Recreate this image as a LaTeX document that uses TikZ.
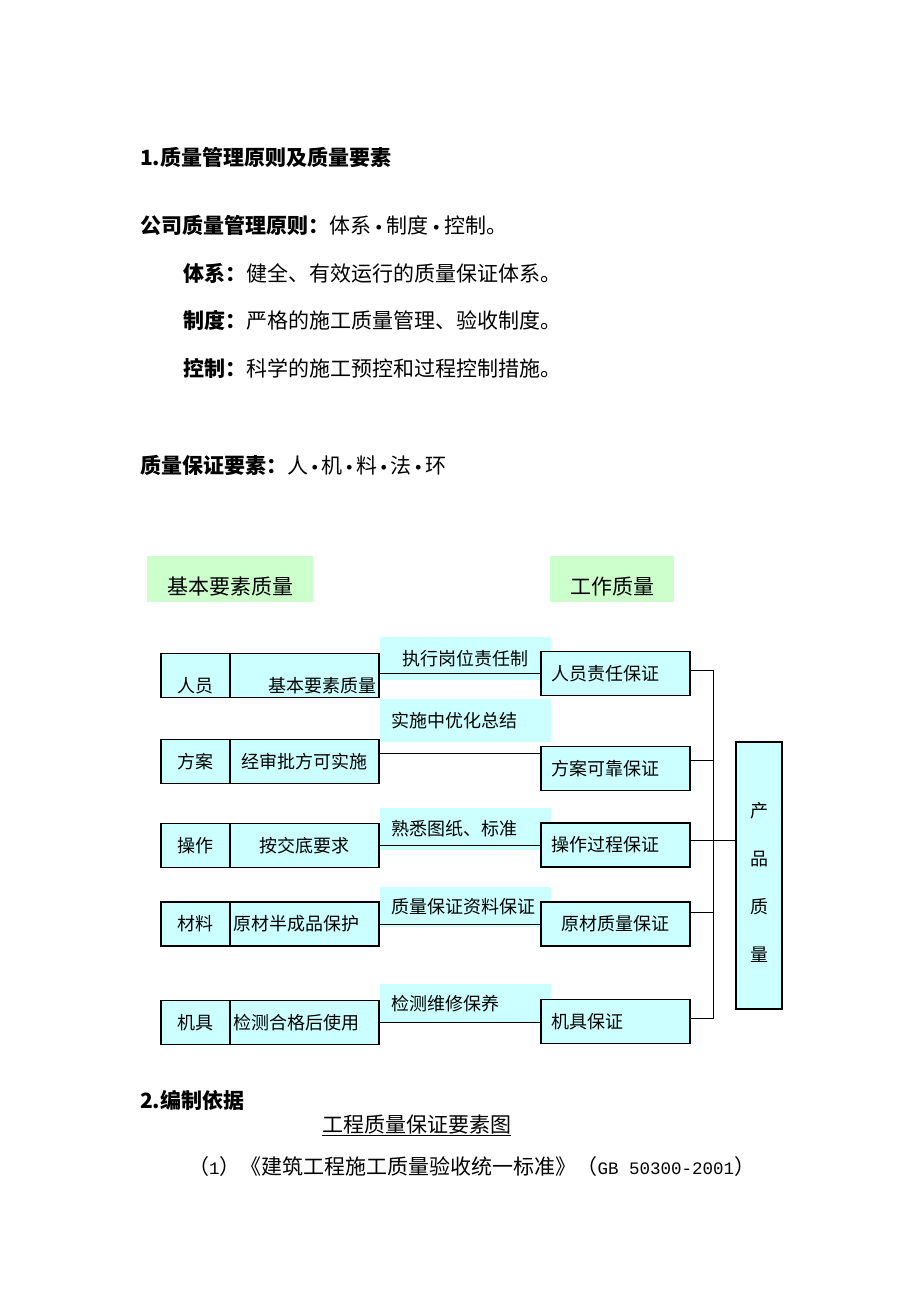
\documentclass[tikz,border=0pt]{standalone}
\usepackage{fontspec}
\setmainfont{Noto Sans CJK SC}
\newfontfamily\gbmono{Liberation Mono}
\usetikzlibrary{positioning}
\definecolor{lcyan}{HTML}{CCFFFF}
\definecolor{lgreen}{HTML}{CCFFCC}
\newcommand{\bul}{\kern1.5pt{\gbmono\fontsize{17.5}{21}\selectfont •}\kern1.5pt}
\newcommand{\half}[1]{{\gbmono\fontsize{17.5}{21}\selectfont #1}}

\begin{document}
\begin{tikzpicture}[x=1pt, y=-1pt,
  every node/.style={inner sep=0pt, outer sep=0pt},
  txt/.style={anchor=west, font=\fontsize{21}{21}\selectfont},
  hdr/.style={fill=lgreen, minimum height=46pt, text height=31pt, text depth=0pt, font=\fontsize{21}{21}\selectfont},
  nbox/.style={draw, line width=1.2pt, fill=lcyan, minimum width=69pt, minimum height=44pt, font=\fontsize{18}{18}\selectfont},
  dbox/.style={nbox, minimum width=149pt, text width=143pt, align=center},
  qbox/.style={nbox, minimum width=149pt, text width=129pt, align=left},
  tag/.style={fill=lcyan, minimum width=171pt, text width=149pt, align=left, font=\fontsize{18}{18}\selectfont},
  pbox/.style={draw, line width=1.2pt, fill=lcyan, minimum width=46pt, minimum height=267pt},
  low/.style={text height=34pt, text depth=0pt},
  link/.style={line width=1pt}]
\useasboundingbox (0,0) rectangle (920,1302);

\node (h1) [txt] at (140,157) {\bfseries 1.质量管理原则及质量要素};
\node (s1) [txt] at (140,225) {{\bfseries 公司质量管理原则：}体系\kern1pt\bul\kern1pt 制度\kern1pt\bul\kern1pt 控制。};
\node (s2) [txt] at (183,273) {{\bfseries 体系：}健全、有效运行的质量保证体系。};
\node (s3) [txt] at (183,320) {{\bfseries 制度：}严格的施工质量管理、验收制度。};
\node (s4) [txt] at (183,368) {{\bfseries 控制：}科学的施工预控和过程控制措施。};
\node (s5) [txt] at (140,465) {{\bfseries 质量保证要素：}人\bul 机\bul 料\bul 法\bul 环};

\node (g1) [hdr, minimum width=166pt] at (230,578.5) {基本要素质量};
\node (g2) [hdr, minimum width=124pt] at (612,578.5) {工作质量};

\node (n1) [nbox, low] at (195.5,675.5) {人员};
\node (n2) [nbox] at (195.5,761.5) {方案};
\node (n3) [nbox] at (195.5,845.5) {操作};
\node (n4) [nbox] at (195.5,924) {材料};
\node (n5) [nbox] at (195.5,1022.5) {机具};
\node (d1) [dbox, low, align=right, right=0pt of n1] {基本要素质量};
\node (d2) [dbox, right=0pt of n2] {经审批方可实施};
\node (d3) [dbox, right=0pt of n3] {按交底要求};
\node (d4) [dbox, align=left, right=0pt of n4] {原材半成品保护};
\node (d5) [dbox, align=left, right=0pt of n5] {检测合格后使用};

\node (t1) [tag, align=center, minimum height=43pt] at (465.5,658.5) {执行岗位责任制};
\node (t2) [tag, minimum height=43pt] at (465.5,720.5) {实施中优化总结};
\node (t3) [tag, minimum height=42pt] at (465.5,829) {熟悉图纸、标准};
\node (t4) [tag, minimum height=40pt] at (465.5,907) {质量保证资料保证};
\node (t5) [tag, minimum height=39pt] at (465.5,1003.5) {检测维修保养};

\node (q1) [qbox] at (615.5,673.5) {人员责任保证};
\node (q2) [qbox] at (615.5,768.5) {方案可靠保证};
\node (q3) [qbox] at (615.5,845) {操作过程保证};
\node (q4) [qbox, align=center] at (615.5,924) {原材质量保证};
\node (q5) [qbox] at (615.5,1021.5) {机具保证};

\node (p) [pbox] at (759,875.5) {};
\node (pt) [align=center, font=\fontsize{18}{48}\selectfont] at ([yshift=-7pt]p.center) {产\\品\\质\\量};

\draw[link] ([yshift=2.5pt]d1.east) -- ([yshift=2.5pt]d1.east -| q1.west);
\draw[link] ([yshift=8.5pt]d2.east) -- ([yshift=8.5pt]d2.east -| q2.west);
\draw[link] (d3.east) -- (d3.east -| q3.west);
\draw[link] (d4.east) -- (d4.east -| q4.west);
\draw[link] (d5.east) -- (d5.east -| q5.west);

\coordinate (bt) at (713,670);
\coordinate (bb) at (713,1018);
\draw[link] ([yshift=3.5pt]q1.east) -- (bt) -- (bb) -- ([yshift=3.5pt]q5.east);
\draw[link] ([yshift=8.5pt]q2.east) -- ([yshift=8.5pt]q2.east -| bt);
\draw[link] ([yshift=5pt]q3.east) -- ([yshift=5pt]q3.east -| p.west);
\draw[link] ([yshift=12pt]q4.east) -- ([yshift=12pt]q4.east -| bt);

\node (h2) [txt] at (140,1100) {\bfseries 2.编制依据};
\node (cap) [txt] at (322,1124) {工程质量保证要素图};
\draw[line width=0.8pt] ([yshift=-2pt]cap.south west) -- ([yshift=-2pt]cap.south east);
\node (r1) [txt] at (188,1167) {（\half{1}）《建筑工程施工质量验收统一标准》（\half{GB 50300-2001}）};
\end{tikzpicture}
\end{document}
